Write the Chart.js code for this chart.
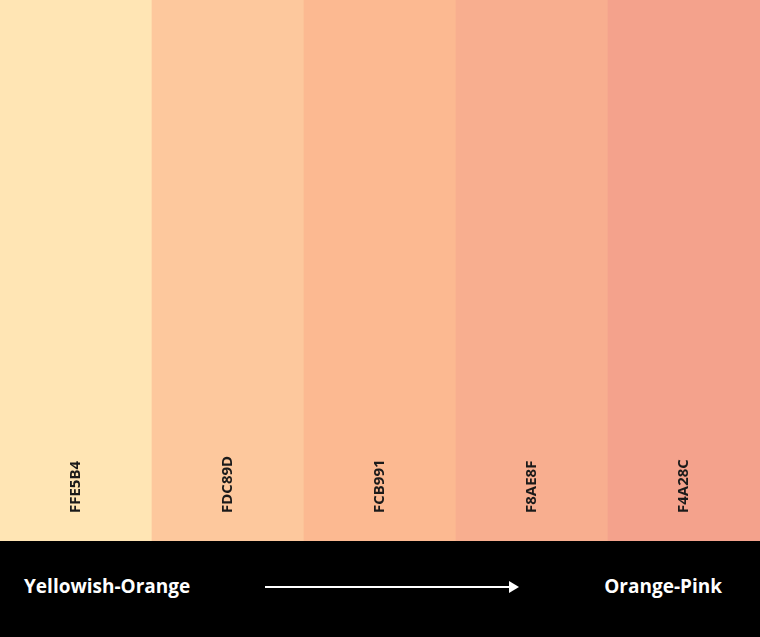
<!DOCTYPE html>
<html><head><meta charset="utf-8">
<script src="https://cdn.jsdelivr.net/npm/chart.js@4"></script>
<style>
html,body{margin:0;padding:0;width:760px;height:637px;overflow:hidden;background:#000;font-family:"Open Sans",sans-serif}
#wrap{position:absolute;left:0;top:0;width:760px;height:541px}
#band{position:absolute;left:0;top:541px;width:760px;height:96px;background:#000;color:#fff;font-weight:bold;font-size:19px}
#l{position:absolute;left:24px;top:32px}
#r{position:absolute;right:38px;top:32px}
#line{position:absolute;left:265px;top:45px;width:246px;height:2px;background:#fff}
#head{position:absolute;left:509px;top:40px;width:0;height:0;border-top:6px solid transparent;border-bottom:6px solid transparent;border-left:10px solid #fff}
</style></head><body>
<div id="wrap"><canvas id="c"></canvas></div>
<div id="band"><div id="l">Yellowish-Orange</div><div id="line"></div><div id="head"></div><div id="r">Orange-Pink</div></div>
<script>
const categories=["FFE5B4","FDC89D","FCB991","F8AE8F","F4A28C"];
const values=[1,1,1,1,1];
const colors=categories.map(c=>"#"+c);
const labelPlugin={id:"lbl",afterDatasetsDraw(ch){
  const ctx=ch.ctx;const meta=ch.getDatasetMeta(0);
  ctx.save();ctx.fillStyle="#1a1a1a";ctx.font="bold 15px 'Open Sans',sans-serif";
  ctx.textAlign="left";ctx.textBaseline="middle";
  meta.data.forEach((b,i)=>{ctx.save();ctx.translate(b.x,513);ctx.rotate(-Math.PI/2);ctx.fillText(categories[i],0,0);ctx.restore();});
  ctx.restore();}};
new Chart(document.getElementById("c"),{type:"bar",
 data:{labels:categories,datasets:[{data:values,backgroundColor:colors,categoryPercentage:1,barPercentage:1,borderWidth:0}]},
 options:{responsive:true,maintainAspectRatio:false,animation:false,layout:{padding:0},
  plugins:{legend:{display:false},tooltip:{enabled:false}},
  scales:{x:{display:false},y:{display:false,min:0,max:1}}},
 plugins:[labelPlugin]});
</script></body></html>
